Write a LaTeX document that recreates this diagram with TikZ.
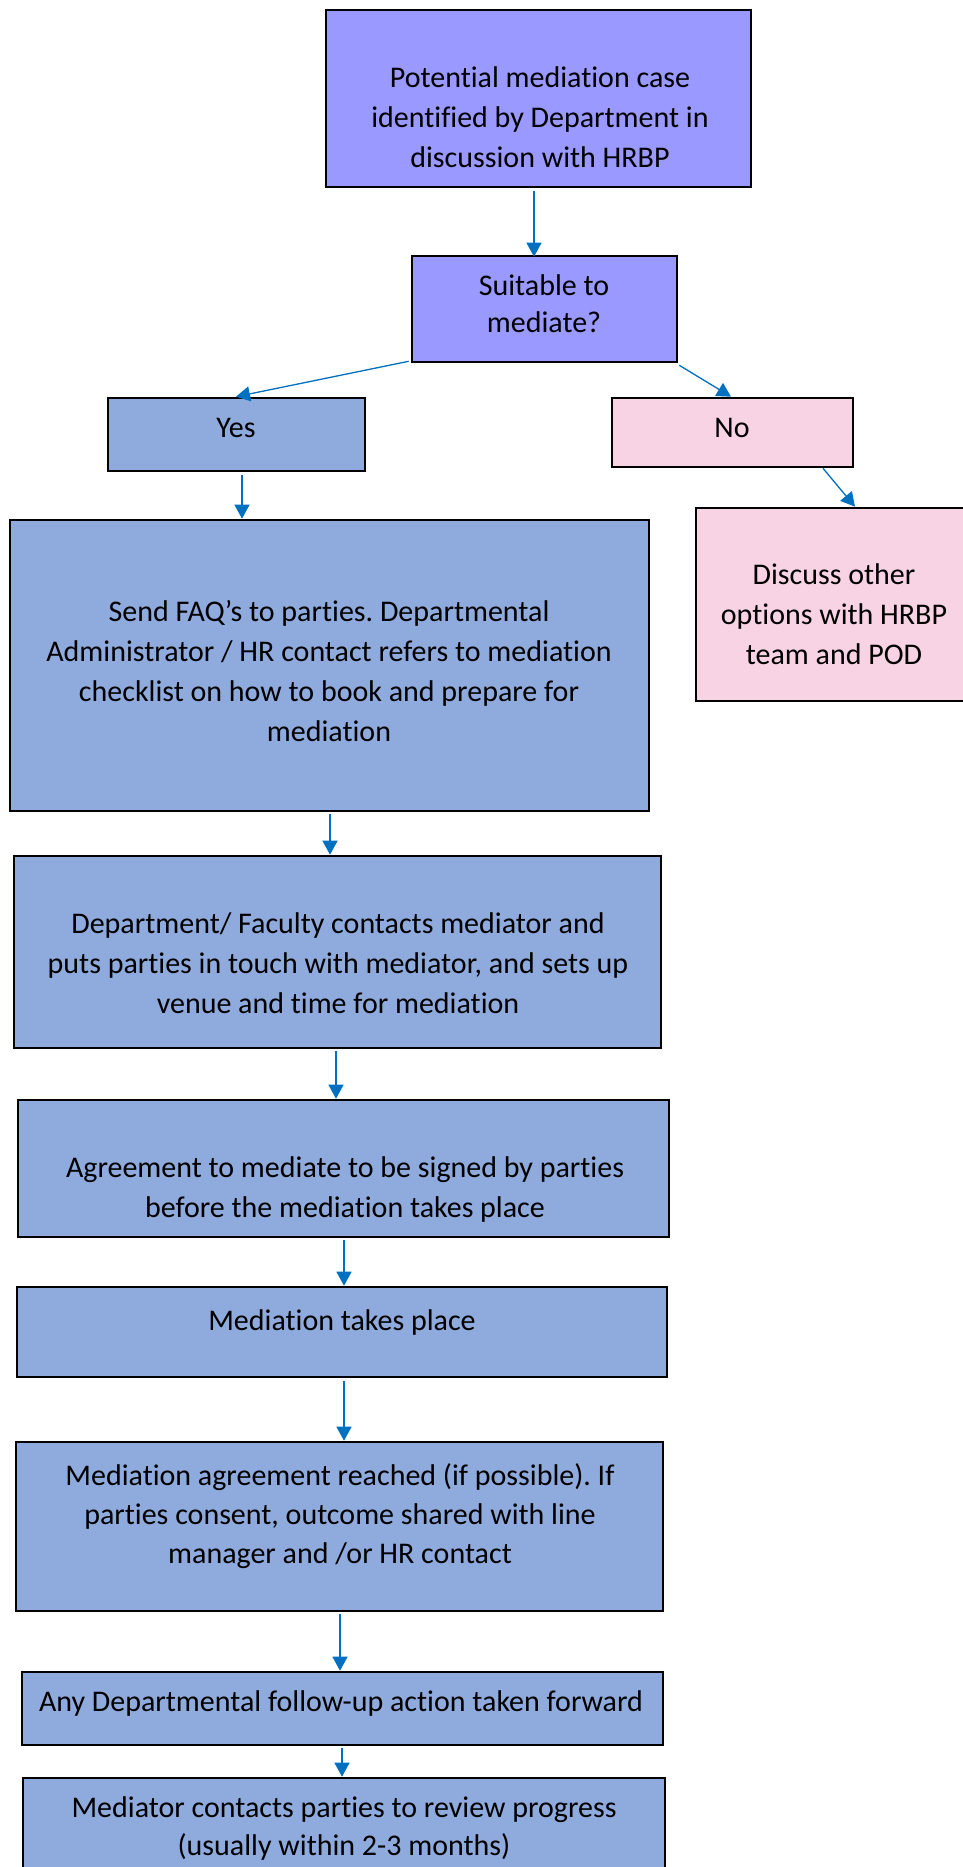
\documentclass[tikz,border=0pt]{standalone}
\usepackage{fontspec}
\setmainfont{Carlito}[Ligatures={NoCommon,NoContextual}]
\usetikzlibrary{arrows.meta}
\definecolor{purp}{HTML}{9999FF}
\definecolor{bluebox}{HTML}{8FAADC}
\definecolor{pinkbox}{HTML}{F7D3E3}
\definecolor{arrblue}{HTML}{0070C0}
\tikzset{
  bx/.style={draw=black, line width=2.6pt, rectangle, inner sep=0pt},
  txt/.style={anchor=north, align=center, inner sep=0pt, font=\fontsize{30pt}{40pt}\selectfont\frenchspacing},
  arr/.style={draw=arrblue, line width=1.3pt, -{Triangle[width=15pt,length=14pt]}}
}
\newcommand{\fs}{\rule{0pt}{24pt}}
\begin{document}
\begin{tikzpicture}[x=1pt,y=-1pt]
\fill[white] (0,0) rectangle (962,1867);
\useasboundingbox (0,0) rectangle (962,1867);

% boxes
\node[bx, fill=purp, minimum width=425pt, minimum height=177pt] (b1) at (538.5,98.5) {};
\node[bx, fill=purp, minimum width=265pt, minimum height=106pt] (b2) at (544.5,309) {};
\node[bx, fill=bluebox, minimum width=257pt, minimum height=73pt] (yes) at (236.5,434.5) {};
\node[bx, fill=pinkbox, minimum width=241pt, minimum height=69pt] (no) at (732.5,432.5) {};
\node[bx, fill=bluebox, minimum width=639pt, minimum height=291pt] (send) at (329.5,665.5) {};
\node[bx, fill=pinkbox, minimum width=276pt, minimum height=193pt] (disc) at (834,604.5) {};
\node[bx, fill=bluebox, minimum width=647pt, minimum height=192pt] (dept) at (337.5,952) {};
\node[bx, fill=bluebox, minimum width=651pt, minimum height=137pt] (agree) at (343.5,1168.5) {};
\node[bx, fill=bluebox, minimum width=650pt, minimum height=90pt] (mt) at (342,1332) {};
\node[bx, fill=bluebox, minimum width=647pt, minimum height=169pt] (ma) at (339.5,1526.5) {};
\node[bx, fill=bluebox, minimum width=641pt, minimum height=73pt] (ad) at (342.5,1708.5) {};
\node[bx, fill=bluebox, minimum width=642pt, minimum height=130pt] (mc) at (344,1843) {};

% texts
\node[txt] (b1t) at (540,63) {\fs Potential mediation case\\identified by Department in\\discussion with HRBP};
\node[txt, font=\fontsize{30pt}{37pt}\selectfont] (b2t) at (544,271) {\fs Suitable to\\mediate?};
\node[txt] (yest) at (236,413) {\fs Yes};
\node[txt] (not) at (732,413) {\fs No};
\node[txt] (sendt) at (329,597) {\fs Send FAQ’s to parties. Departmental\\Administrator / HR contact refers to mediation\\checklist on how to book and prepare for\\mediation};
\node[txt] (disct) at (834,560) {\fs Discuss other\\options with HRBP\\team and POD};
\node[txt] (deptt) at (338,909) {\fs Department/ Faculty contacts mediator and\\puts parties in touch with mediator, and sets up\\venue and time for mediation};
\node[txt] (agreet) at (345,1153) {\fs Agreement to mediate to be signed by parties\\before the mediation takes place};
\node[txt] (mtt) at (342,1306) {\fs Mediation takes place};
\node[txt, font=\fontsize{30pt}{39pt}\selectfont\frenchspacing] (mat) at (340,1461) {\fs Mediation agreement reached (if possible). If\\parties consent, outcome shared with line\\manager and /or HR contact};
\node[txt] (adt) at (341,1687) {\fs Any Departmental follow-up action taken forward};
\node[txt, font=\fontsize{30pt}{38pt}\selectfont] (mct) at (344,1793) {\fs Mediator contacts parties to review progress\\(usually within 2-3 months)};

% connectors
\draw[arr] ([xshift=-4.5pt,yshift=-3pt]b1.south) coordinate (s1) -- ([yshift=-2pt]s1 |- b2.north);
\draw[arr] ([xshift=-2pt,yshift=2pt]b2.south west) -- ([xshift=-0.5pt]yes.north);
\draw[arr] ([xshift=1pt,yshift=-2pt]b2.south east) -- ([xshift=-1.5pt]no.north);
\draw[arr] ([xshift=5.5pt,yshift=-3pt]yes.south) coordinate (s2) -- (s2 |- send.north);
\draw[arr] ([xshift=90.5pt]no.south) -- ([xshift=21pt]disc.north);
\draw[arr] ([xshift=0.5pt,yshift=-2pt]send.south) coordinate (s3) -- (s3 |- dept.north);
\draw[arr] ([xshift=-1.5pt,yshift=-2pt]dept.south) coordinate (s4) -- (s4 |- agree.north);
\draw[arr] ([xshift=0.5pt,yshift=-2pt]agree.south) coordinate (s5) -- (s5 |- mt.north);
\draw[arr] ([xshift=2pt,yshift=-3pt]mt.south) coordinate (s6) -- (s6 |- ma.north);
\draw[arr] ([xshift=0.5pt,yshift=-2pt]ma.south) coordinate (s7) -- (s7 |- ad.north);
\draw[arr] ([xshift=-0.5pt,yshift=-2pt]ad.south) coordinate (s8) -- (s8 |- mc.north);
\end{tikzpicture}
\end{document}
